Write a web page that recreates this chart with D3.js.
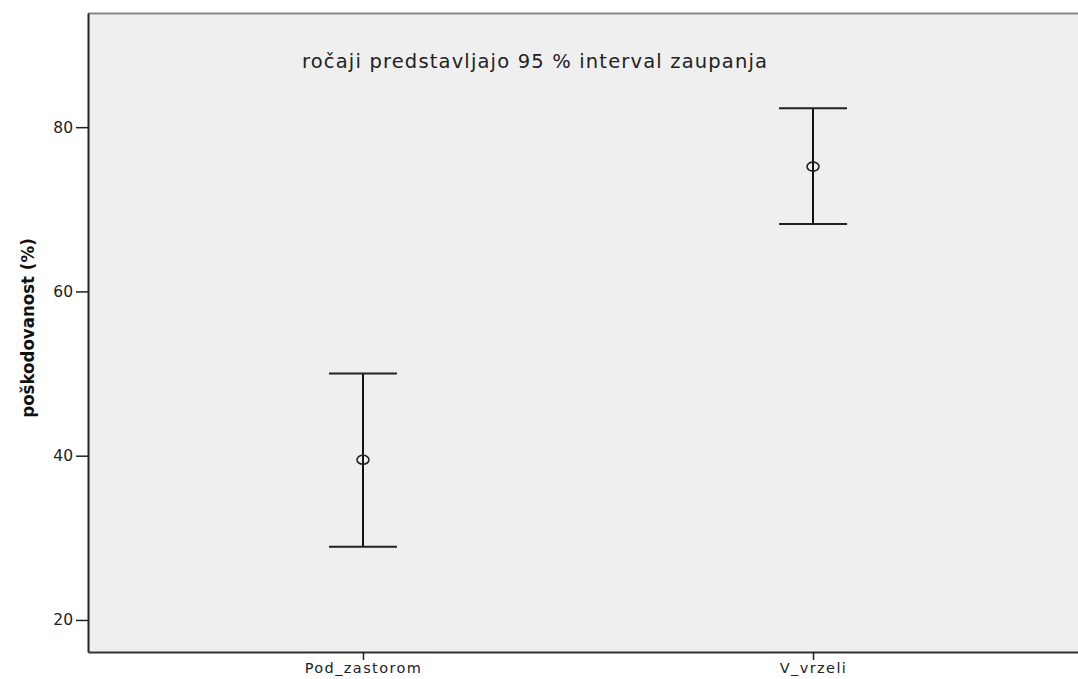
<!DOCTYPE html>
<html>
<head>
<meta charset="utf-8">
<script src="https://cdn.jsdelivr.net/npm/d3@7"></script>
<style>
  body { margin: 0; background: #fff; }
  svg { display: block; }
</style>
</head>
<body>
<svg id="chart" width="1078" height="679"></svg>
<script>
'use strict';

// categories and the 95% CI values
var categories = ['Pod_zastorom', 'V_vrzeli'];
var means = [39.5, 75.2];
var lower = [28.9, 68.2];
var upper = [50.0, 82.3];
var yTicks = [20, 40, 60, 80];

var data = categories.map(function(c, i) {
  return {cat: c, mean: means[i], lo: lower[i], hi: upper[i]};
});

var svg = d3.select('#chart');
var plotLeft = 88, plotRight = 1088, plotTop = 13, plotBottom = 652;

var x = d3.scalePoint().domain(categories).range([plotLeft, plotRight]).padding(0.611);
var y = d3.scaleLinear().domain([16.1, 93.9]).range([plotBottom, plotTop]);

// plot background
svg.append('rect')
  .attr('x', plotLeft).attr('y', plotTop)
  .attr('width', plotRight - plotLeft).attr('height', plotBottom - plotTop)
  .attr('fill', '#efefef');

// top border
svg.append('line')
  .attr('x1', plotLeft).attr('x2', plotRight)
  .attr('y1', plotTop + 0.5).attr('y2', plotTop + 0.5)
  .attr('stroke', '#888').attr('stroke-width', 2);

// y axis
var yAxis = svg.append('g')
  .attr('transform', 'translate(' + plotLeft + ',0)')
  .call(d3.axisLeft(y).tickValues(yTicks).tickSize(12).tickSizeOuter(0).tickPadding(3));
yAxis.select('.domain').attr('stroke', '#222').attr('stroke-width', 2);
yAxis.selectAll('.tick line').attr('stroke', '#222').attr('stroke-width', 1.5);
yAxis.selectAll('.tick text')
  .attr('font-family', 'DejaVu Sans, sans-serif')
  .attr('font-size', 15.5).attr('fill', '#222');

// x axis
var xAxis = svg.append('g')
  .attr('transform', 'translate(0,' + plotBottom + ')')
  .call(d3.axisBottom(x).tickSize(8).tickSizeOuter(0).tickPadding(3));
xAxis.select('.domain').attr('stroke', '#333').attr('stroke-width', 2);
xAxis.selectAll('.tick line').attr('stroke', '#222').attr('stroke-width', 1.5);
xAxis.selectAll('.tick text')
  .attr('font-family', 'DejaVu Sans, sans-serif')
  .attr('font-size', 14.5)
  .attr('letter-spacing', 1.4)
  .attr('fill', '#222');

// y axis title
svg.append('text')
  .attr('transform', 'translate(34,328) rotate(-90)')
  .attr('text-anchor', 'middle')
  .attr('font-family', 'Liberation Sans Narrow, DejaVu Sans Condensed, sans-serif')
  .attr('font-weight', 'bold')
  .attr('font-size', 18.5)
  .attr('fill', '#111')
  .text('poškodovanost (%)');

// note text
svg.append('text')
  .attr('x', 302).attr('y', 68)
  .attr('font-family', 'DejaVu Sans, sans-serif')
  .attr('font-size', 19.5)
  .attr('textLength', 465)
  .attr('lengthAdjust', 'spacing')
  .attr('fill', '#222')
  .text('ročaji predstavljajo 95 % interval zaupanja');

// error bars
var bars = svg.selectAll('g.bar').data(data)
  .enter()
  .append('g')
  .attr('class', 'bar');

bars.append('line')
  .attr('x1', function(d) { return x(d.cat); })
  .attr('x2', function(d) { return x(d.cat); })
  .attr('y1', function(d) { return y(d.hi); })
  .attr('y2', function(d) { return y(d.lo); })
  .attr('stroke', '#111').attr('stroke-width', 2);

bars.append('line')
  .attr('x1', function(d) { return x(d.cat) - 34; })
  .attr('x2', function(d) { return x(d.cat) + 34; })
  .attr('y1', function(d) { return y(d.hi); })
  .attr('y2', function(d) { return y(d.hi); })
  .attr('stroke', '#222').attr('stroke-width', 2);

bars.append('line')
  .attr('x1', function(d) { return x(d.cat) - 34; })
  .attr('x2', function(d) { return x(d.cat) + 34; })
  .attr('y1', function(d) { return y(d.lo); })
  .attr('y2', function(d) { return y(d.lo); })
  .attr('stroke', '#222').attr('stroke-width', 2);

bars.append('ellipse')
  .attr('cx', function(d) { return x(d.cat); })
  .attr('cy', function(d) { return y(d.mean); })
  .attr('rx', 6).attr('ry', 4.5)
  .attr('fill', 'none')
  .attr('stroke', '#222').attr('stroke-width', 1.6);
</script>
</body>
</html>
